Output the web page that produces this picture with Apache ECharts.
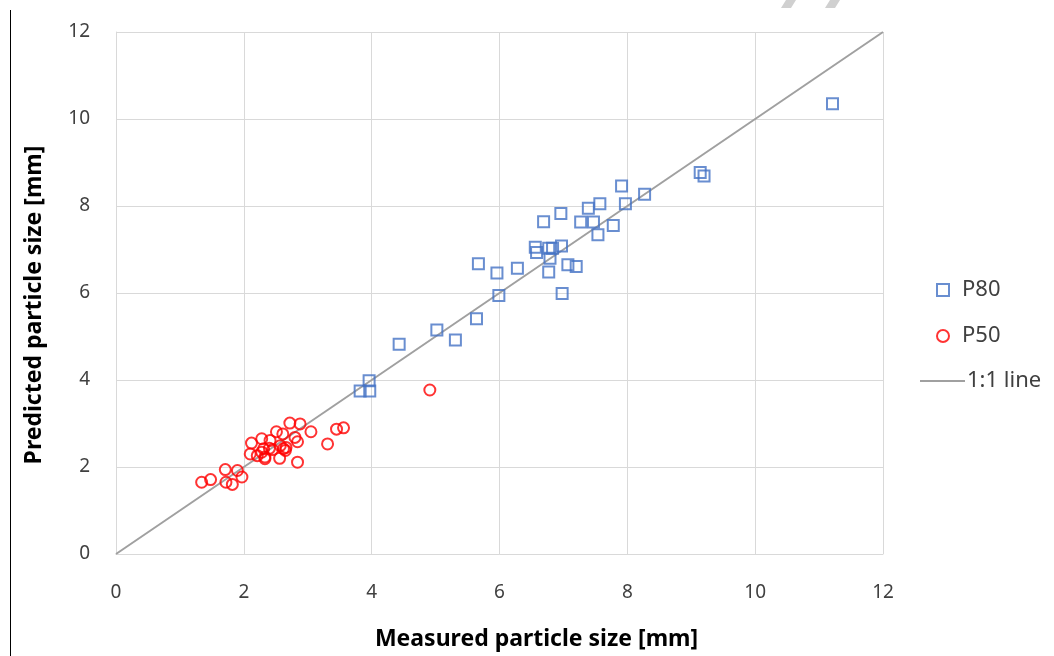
<!DOCTYPE html>
<html>
<head>
<meta charset="utf-8">
<script src="https://cdn.jsdelivr.net/npm/echarts@6/dist/echarts.min.js"></script>
<style>
  html, body { margin: 0; padding: 0; background: #fff; }
  #chart { width: 1054px; height: 656px; }
</style>
</head>
<body>
<div id="chart"></div>
<script>
// measured vs predicted, [x, y] in mm
const p80 = [
  [3.82, 3.75], [3.97, 3.75], [3.96, 3.98], [4.43, 4.82], [5.02, 5.15],
  [5.31, 4.92], [5.64, 5.41], [5.67, 6.67], [5.96, 6.46], [5.99, 5.94],
  [6.28, 6.57], [6.56, 7.05], [6.58, 6.93], [6.69, 7.64], [6.77, 6.48],
  [6.79, 6.80], [6.77, 7.03], [6.83, 7.03], [6.97, 7.08], [6.96, 7.83],
  [6.98, 5.99], [7.07, 6.65], [7.20, 6.61], [7.27, 7.63], [7.39, 7.95],
  [7.47, 7.63], [7.54, 7.34], [7.57, 8.05], [7.78, 7.55], [7.91, 8.46],
  [7.97, 8.05], [8.27, 8.27], [9.14, 8.77], [9.20, 8.69], [11.21, 10.35]
];
const p50 = [
  [1.34, 1.65], [1.48, 1.71], [1.71, 1.94], [1.72, 1.65], [1.82, 1.60],
  [1.90, 1.92], [1.97, 1.77], [2.12, 2.55], [2.10, 2.30], [2.28, 2.65],
  [2.21, 2.26], [2.28, 2.34], [2.31, 2.42], [2.33, 2.19], [2.33, 2.23],
  [2.40, 2.43], [2.41, 2.61], [2.45, 2.40], [2.51, 2.81], [2.57, 2.49],
  [2.56, 2.20], [2.61, 2.76], [2.62, 2.42], [2.66, 2.45], [2.65, 2.38],
  [2.72, 3.01], [2.80, 2.68], [2.84, 2.58], [2.88, 2.99], [2.84, 2.11],
  [3.05, 2.81], [3.31, 2.53], [3.45, 2.87], [3.56, 2.90], [4.91, 3.77]
];
const oneToOne = [[0, 0], [12, 12]];
const xTitle = 'Measured particle size [mm]';
const yTitle = 'Predicted particle size [mm]';

const font = '"Noto Sans", sans-serif';
const gridColor = '#D9D9D9';

const chart = echarts.init(document.getElementById('chart'));

chart.setOption({
  animation: false,
  textStyle: { fontFamily: font },
  grid: { left: 116, right: 171, top: 32, bottom: 100 },
  legend: [
    {
      data: ['P80', 'P50'],
      orient: 'vertical',
      left: 931,
      top: 274,
      itemWidth: 12,
      itemHeight: 12,
      itemGap: 24,
      textStyle: { fontSize: 22, color: '#404040', fontFamily: font, padding: [0, 0, 0, 8] }
    },
    {
      data: [{ name: '1:1 line', icon: 'path://M0,0 L45,0 L45,2 L0,2 Z' }],
      orient: 'vertical',
      left: 915,
      top: 365,
      itemWidth: 45,
      itemHeight: 2,
      itemGap: 5,
      textStyle: { fontSize: 22, color: '#404040', fontFamily: font, padding: [0, 0, 0, -3] }
    }
  ],
  xAxis: {
    type: 'value',
    min: 0,
    max: 12,
    interval: 2,
    name: xTitle,
    nameLocation: 'middle',
    nameGap: 74,
    nameTextStyle: { fontSize: 23, fontWeight: 'bold', color: '#000', padding: [0, 0, 0, 74] },
    axisLine: { show: true, lineStyle: { color: gridColor } },
    axisTick: { show: false },
    axisLabel: { fontSize: 19, color: '#404040', margin: 29 },
    splitLine: { show: true, lineStyle: { color: gridColor } }
  },
  yAxis: {
    type: 'value',
    min: 0,
    max: 12,
    interval: 2,
    name: yTitle,
    nameLocation: 'middle',
    nameGap: 70,
    nameTextStyle: { fontSize: 23, fontWeight: 'bold', color: '#000', padding: [0, 24, 0, 0] },
    axisLine: { show: true, lineStyle: { color: gridColor } },
    axisTick: { show: false },
    axisLabel: { fontSize: 19, color: '#404040', margin: 26 },
    splitLine: { show: true, lineStyle: { color: gridColor } }
  },
  series: [
    {
      name: '1:1 line',
      type: 'line',
      data: oneToOne,
      symbol: 'none',
      lineStyle: { color: '#A0A0A0', width: 2 },
      itemStyle: { color: '#A0A0A0' },
      z: 1
    },
    {
      name: 'P80',
      type: 'scatter',
      data: p80,
      symbol: 'rect',
      symbolSize: 11,
      itemStyle: { color: 'rgba(255,255,255,0)', borderColor: '#4472C4', borderWidth: 2 },
      z: 3
    },
    {
      name: 'P50',
      type: 'scatter',
      data: p50,
      symbol: 'circle',
      symbolSize: 11,
      itemStyle: { color: 'rgba(255,255,255,0)', borderColor: '#FF0000', borderWidth: 2 },
      z: 2
    }
  ],
  graphic: [
    { type: 'line', shape: { x1: 10.5, y1: 10, x2: 10.5, y2: 656 }, style: { stroke: '#000', lineWidth: 1 } },
    { type: 'polygon', shape: { points: [[786, 0], [796, 0], [791, 8], [781, 8]] }, style: { fill: '#D0D0D0' } },
    { type: 'polygon', shape: { points: [[830, 0], [840, 0], [835, 8], [825, 8]] }, style: { fill: '#D0D0D0' } }
  ]
});
</script>
</body>
</html>
